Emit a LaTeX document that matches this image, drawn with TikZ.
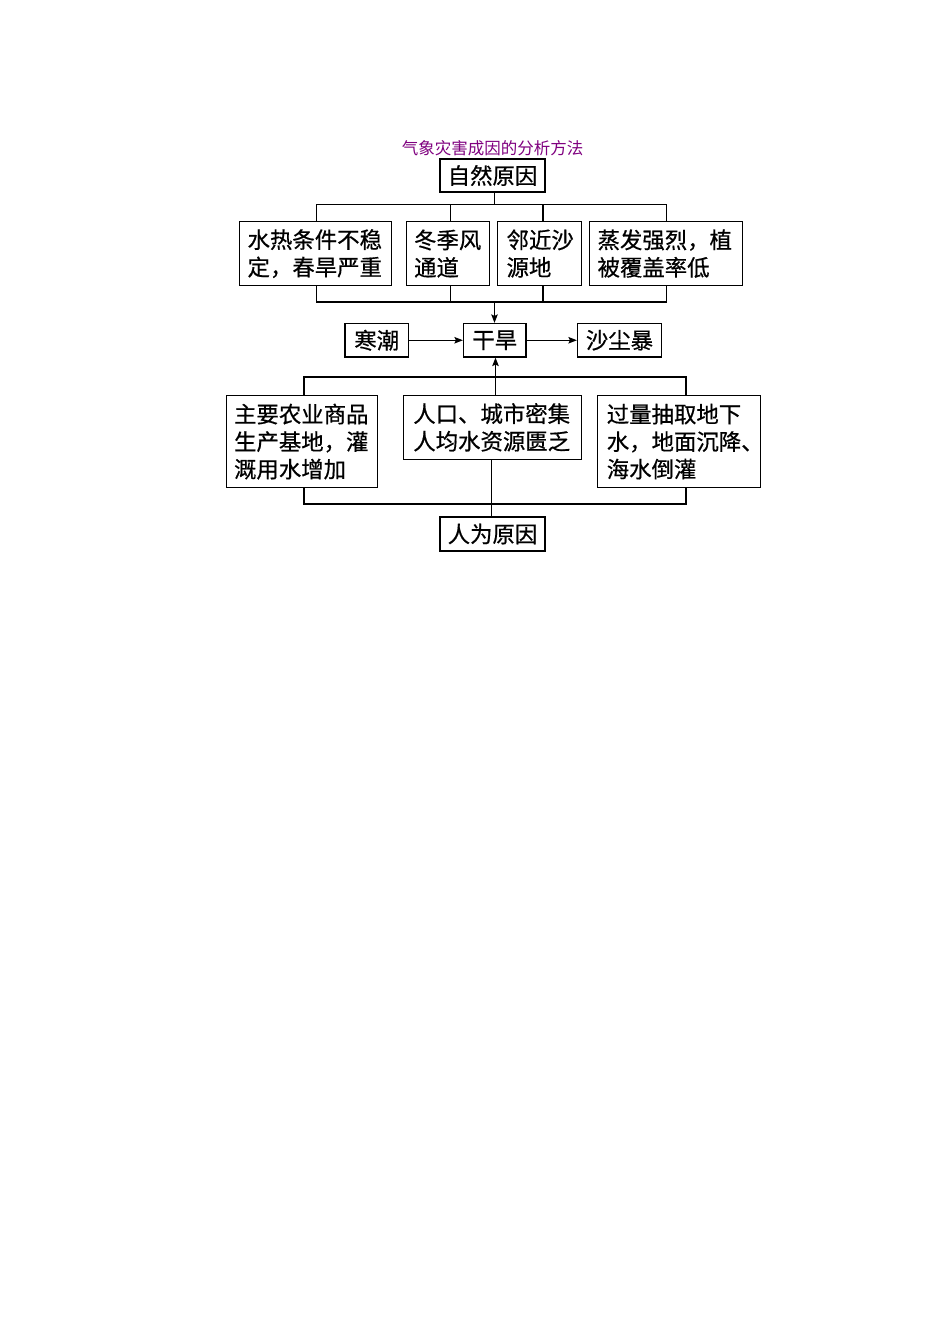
\documentclass[tikz,border=0pt]{standalone}
\usepackage{fontspec}
\setmainfont{Noto Sans CJK SC}
\newfontfamily\boxfam{Noto Sans CJK SC}[FakeBold=0.6]
\usetikzlibrary{arrows.meta}
\definecolor{titlepurple}{RGB}{128,0,128}
\newcommand{\boxfont}{\boxfam\fontsize{22.4}{27.5}\selectfont}
\newcommand{\titlefont}{\fontsize{16.5}{19}\selectfont}
\tikzset{
  ln/.style={line width=1.2pt, draw=black},
  arr/.style={ln, -{Stealth[length=8.5pt,width=6.5pt,inset=1.5pt]}},
  mbox/.style={draw=black, line width=1.2pt, anchor=north west, inner ysep=0pt, inner xsep=8pt, align=left, font=\boxfont},
  sbox/.style={draw=black, line width=1.2pt, anchor=center, inner sep=0pt, font=\boxfont},
}
\begin{document}
\begin{tikzpicture}[x=1pt,y=-1pt]
\useasboundingbox[fill=white] (0,0) rectangle (950,1344);
% title
\node[font=\titlefont, text=titlepurple, inner sep=0pt] (title) at (492.5,148) {气象灾害成因的分析方法};
% top
\node[sbox, minimum width=105pt, minimum height=33pt] (top) at (492.5,175.5) {自然原因};
\node[mbox, text width=136pt, minimum height=64pt] (b1) at (239,221) {水热条件不稳\\定，春旱严重};
\node[mbox, text width=67.5pt, minimum height=64pt] (b2) at (405.5,221) {冬季风\\通道};
\node[mbox, inner xsep=9pt, text width=66pt, minimum height=64pt] (b3) at (497,221) {邻近沙\\源地};
\node[mbox, text width=136.5pt, minimum height=64pt] (b4) at (589,221) {蒸发强烈，植\\被覆盖率低};
% middle
\node[sbox, minimum width=63.5pt, minimum height=33.5pt] (hanchao) at (376.75,340.25) {寒潮};
\node[sbox, minimum width=62.5pt, minimum height=33.5pt] (ganhan) at (494.75,340.25) {干旱};
\node[sbox, minimum width=84pt, minimum height=33.5pt] (shachen) at (619.5,340.25) {沙尘暴};
% lower
\node[mbox, inner xsep=7.5pt, text width=135.5pt, minimum height=92pt] (L) at (226,395) {主要农业商品\\生产基地，灌\\溉用水增加};
\node[mbox, inner xsep=10pt, text width=158.3pt, minimum height=64.5pt] (M) at (402.7,394.5) {人口、城市密集\\人均水资源匮乏};
\node[mbox, inner xsep=9.5pt, text width=144.3pt, minimum height=92pt] (R) at (596.7,395) {过量抽取地下\\水，地面沉降、\\海水倒灌};
\node[sbox, minimum width=105pt, minimum height=34pt] (bottom) at (492.5,534) {人为原因};
% reference coordinates
\coordinate (xm) at (494.5,0);
\coordinate (xa) at (316.7,0);
\coordinate (xb) at (450.7,0);
\coordinate (xc) at (543,0);
\coordinate (xd) at (666.7,0);
\coordinate (ya) at (0,204.5);
\coordinate (yb) at (0,302);
\coordinate (xL) at (304,0);
\coordinate (xR) at (686,0);
\coordinate (xu) at (495.5,0);
\coordinate (xv) at (491.5,0);
\coordinate (yc) at (0,377);
\coordinate (yd) at (0,504);
% upper connectors
\draw[ln] (top.south -| xm) -- (ya -| xm);
\draw[ln] (b1.north -| xa) |- (ya -| xd) -- (b4.north -| xd);
\draw[ln] (b2.north -| xb) -- (ya -| xb);
\draw[ln] (b3.north -| xc) -- (ya -| xc);
\draw[ln] (b1.south -| xa) |- (yb -| xd) -- (b4.south -| xd);
\draw[ln] (b2.south -| xb) -- (yb -| xb);
\draw[ln] (b3.south -| xc) -- (yb -| xc);
\draw[arr] (yb -| xm) -- (ganhan.north -| xm);
% middle arrows
\draw[arr] (hanchao) -- (ganhan);
\draw[arr] (ganhan) -- (shachen);
% lower connectors
\draw[ln] (L.north -| xL) |- (yc -| xR) -- (R.north -| xR);
\draw[arr] (M.north -| xu) -- (ganhan.south -| xu);
\draw[ln] (L.south -| xL) |- (yd -| xR) -- (R.south -| xR);
\draw[ln] (M.south -| xv) -- (bottom.north -| xv);
\end{tikzpicture}
\end{document}
